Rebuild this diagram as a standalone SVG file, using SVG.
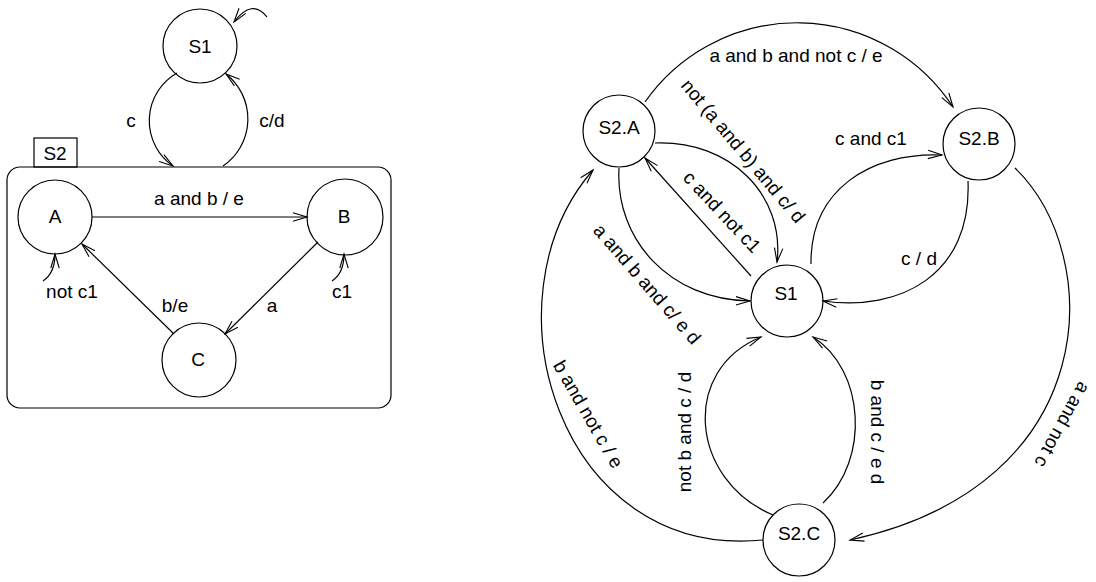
<svg xmlns="http://www.w3.org/2000/svg" width="1096" height="582" viewBox="0 0 1096 582">
<style>
.n{fill:none;stroke:#000;stroke-width:1.2}
.e{fill:none;stroke:#000;stroke-width:1.2;marker-end:url(#ah)}
text{font-family:"Liberation Sans",Arial,sans-serif;font-size:19px;fill:#000;text-anchor:middle}
</style>
<defs>
<marker id="ah" markerUnits="userSpaceOnUse" markerWidth="17" markerHeight="12" refX="15" refY="6" orient="auto">
<path d="M1,1.8 L15,6 L1,10.2" fill="none" stroke="#000" stroke-width="1.1"/>
</marker>
</defs>
<rect width="1096" height="582" fill="#fff"/>

<g id="left">
<g id="L-S2-box">
<rect x="7" y="167" width="384" height="241" rx="13" ry="13" class="n"/>
<rect x="34" y="138" width="43" height="29" class="n"/>
<text x="55" y="160">S2</text>
</g>
<g id="L-S1"><circle cx="200" cy="46" r="37" class="n"/><text x="200" y="53">S1</text></g>
<g id="L-A"><circle cx="55" cy="217" r="37" class="n"/><text x="55" y="223">A</text></g>
<g id="L-B"><circle cx="345" cy="217" r="38" class="n"/><text x="344" y="223">B</text></g>
<g id="L-C"><circle cx="199" cy="360" r="37" class="n"/><text x="198" y="366">C</text></g>
<g id="L-connectors">
<path d="M267,17 Q252,-2 234,22" class="e"/>
<path d="M177,73 A55,55 0 0 0 173,166" class="e"/>
<path d="M223,166 A57,57 0 0 0 226,74" class="e"/>
<path d="M92,217 L307,217" class="e"/>
<path d="M318,242 L225,334" class="e"/>
<path d="M174,334 L82,244" class="e"/>
<path d="M43,281 Q55,273 55,254" class="e"/>
<path d="M332,281 Q344,273 344,254" class="e"/>
<text x="131" y="127">c</text>
<text x="272" y="127">c/d</text>
<text x="199" y="205">a and b / e</text>
<text x="72" y="298">not c1</text>
<text x="342" y="298">c1</text>
<text x="175" y="312">b/e</text>
<text x="272" y="312">a</text>
</g>
</g>

<g id="right">
<g id="S2A"><circle cx="619" cy="131" r="36" class="n"/><text x="619" y="134">S2.A</text></g>
<g id="S2B"><circle cx="979" cy="144" r="36" class="n"/><text x="979" y="145">S2.B</text></g>
<g id="S1"><circle cx="787" cy="301" r="36" class="n"/><text x="786" y="300">S1</text></g>
<g id="S2C"><circle cx="799" cy="540" r="36" class="n"/><text x="799" y="540">S2.C</text></g>
<g id="R-connectors">
<path d="M645,102 A186,186 0 0 1 953,107" class="e"/>
<path d="M655,143 C730,140 785,195 777,262" class="e"/>
<path d="M751,276 L645,158" class="e"/>
<path d="M619,168 C615,240 670,300 750,301" class="e"/>
<path d="M811,264 C810,190 870,152 942,155" class="e"/>
<path d="M968,181 C972,275 900,312 823,301" class="e"/>
<path d="M1015,168 C1105,255 1105,485 850,540" class="e"/>
<path d="M763,540 C560,560 480,300 593,170" class="e"/>
<path d="M773,515 C690,480 680,370 761,337" class="e"/>
<path d="M823,503 C870,460 865,370 813,337" class="e"/>
<text x="796" y="62">a and b and not c / e</text>
<text x="871" y="145">c and c1</text>
<text x="919" y="265">c / d</text>
<text transform="translate(742,152) rotate(50)" y="5">not (a and b) and c/ d</text>
<text transform="translate(721,213) rotate(47)" y="5">c and not c1</text>
<text transform="translate(646,285) rotate(49)" y="5">a and b and c/ e d</text>
<text transform="translate(587,415) rotate(60)" y="5">b and not c / e</text>
<text transform="translate(686,432) rotate(-90)" y="5">not b and c / d</text>
<text transform="translate(876,432) rotate(90)" y="5">b and c / e d</text>
<text transform="translate(1061,424) rotate(119)" y="5">a and not c</text>
</g>
</g>
</svg>
